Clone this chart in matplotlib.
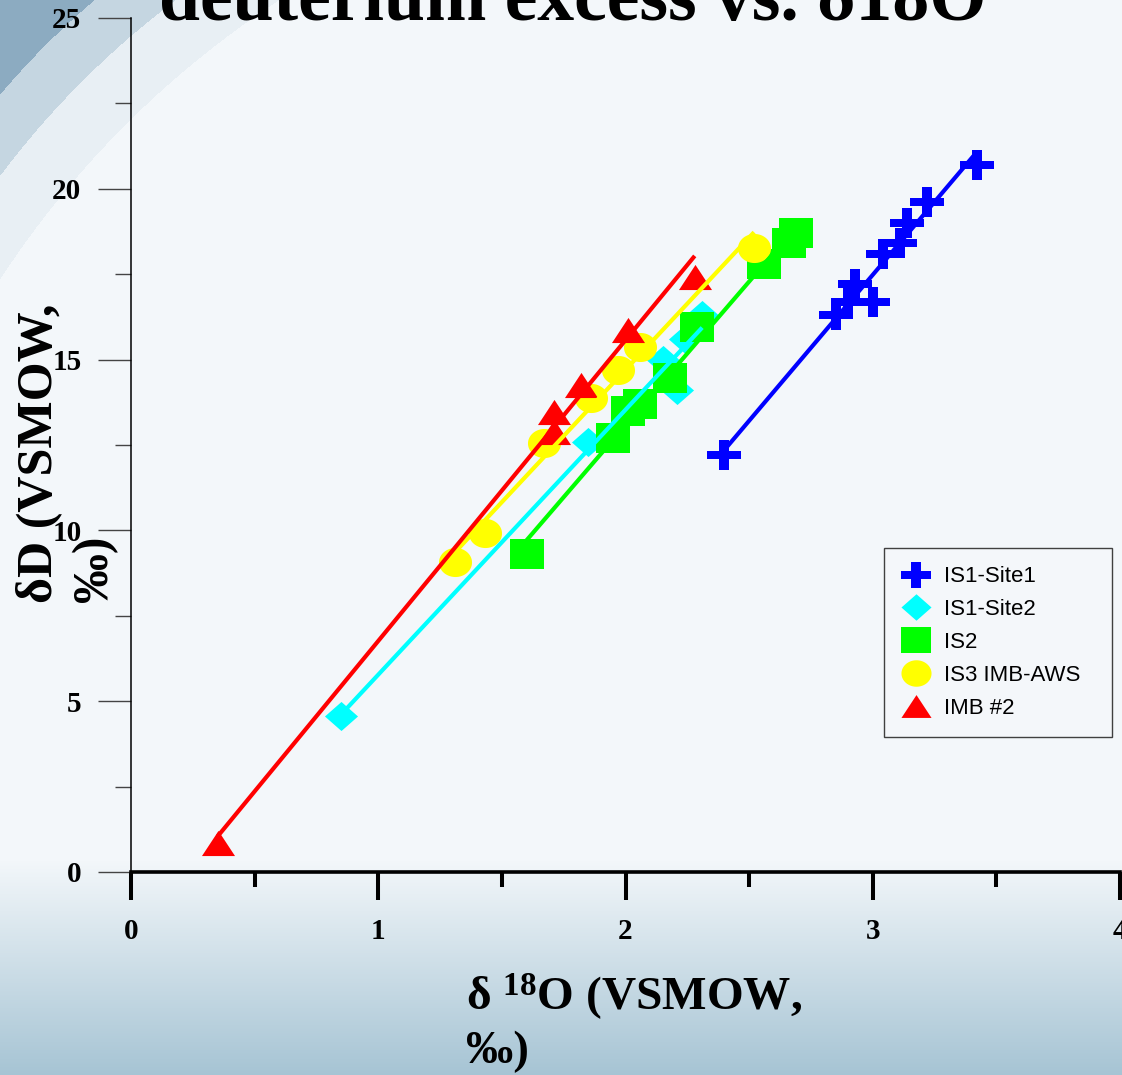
import matplotlib
matplotlib.use('Agg')
import matplotlib.pyplot as plt
import numpy as np

# delta 18O / delta D values
site1_x = [2.40, 2.85, 2.90, 2.93, 3.00, 3.04, 3.11, 3.14, 3.22, 3.42]
site1_y = [12.2, 16.3, 16.7, 17.2, 16.7, 18.1, 18.4, 19.0, 19.6, 20.7]
site2_x = [0.85, 1.85, 2.15, 2.21, 2.24, 2.31]
site2_y = [4.57, 12.6, 15.0, 14.1, 15.6, 16.3]
is2_x = [1.60, 1.95, 2.01, 2.06, 2.18, 2.29, 2.56, 2.66, 2.69]
is2_y = [9.31, 12.7, 13.5, 13.7, 14.46, 15.95, 17.8, 18.4, 18.7]
is3_x = [1.31, 1.43, 1.67, 1.86, 1.97, 2.06, 2.52]
is3_y = [9.07, 9.92, 12.56, 13.88, 14.7, 15.37, 18.27]
imb_x = [0.35, 1.71, 1.71, 1.82, 2.01, 2.28]
imb_y = [0.85, 13.47, 12.88, 14.26, 15.87, 17.42]

labels = ['IS1-Site1', 'IS1-Site2', 'IS2', 'IS3 IMB-AWS', 'IMB #2']
colors = ['#0000ff', '#00ffff', '#00ff00', '#ffff00', '#ff0000']
xs = [site1_x, site2_x, is2_x, is3_x, imb_x]
ys = [site1_y, site2_y, is2_y, is3_y, imb_y]

# marker shapes (slightly wider than tall, like the slide)
h = 0.88
plus = [(-0.33, h), (0.33, h), (0.33, 0.27), (1, 0.27), (1, -0.27), (0.33, -0.27),
        (0.33, -h), (-0.33, -h), (-0.33, -0.27), (-1, -0.27), (-1, 0.27), (-0.33, 0.27)]
diamond = [(0, h), (1, 0), (0, -h), (-1, 0)]
square = [(-1, -h), (1, -h), (1, h), (-1, h)]
t = np.linspace(0, 2 * np.pi, 60)
ellipse = list(zip(np.cos(t), h * np.sin(t)))
triangle = [(-1, -0.76), (1, -0.76), (0, 0.76)]
markers = [plus, diamond, square, ellipse, triangle]

plt.rcParams['font.family'] = ['Liberation Serif', 'DejaVu Serif']
plt.rcParams['mathtext.fontset'] = 'custom'
plt.rcParams['mathtext.rm'] = 'Liberation Serif:bold'
plt.rcParams['mathtext.default'] = 'rm'

W, H = 1122, 1075
fig = plt.figure(figsize=(W / 100, H / 100), dpi=100)

# slide background: swoosh at top-left, blue fade at the bottom
yy, xx = np.mgrid[0:H, 0:W]
img = np.ones((H, W, 3)) * np.array([243, 247, 250])
left = xx < 450
for (cx, cy, r, col) in [(800, 800, 955, (232, 239, 244)),
                         (700, 700, 875, (197, 214, 225)),
                         (600, 600, 785, (140, 171, 193))]:
    outside = (np.hypot(xx - cx, yy - cy) > r) & left
    img[outside] = col
fade = np.clip((yy - 860) / (H - 860), 0, 1)[..., None]
img = img * (1 - fade) + np.array([166, 196, 212]) * fade
bg = fig.add_axes([0, 0, 1, 1], zorder=-10)
bg.imshow(img.astype(np.uint8), aspect='auto', interpolation='bilinear')
bg.axis('off')

ax = fig.add_axes([131 / W, 1 - 872 / H, (1120 - 131) / W, (872 - 18) / H])
ax.set_facecolor('none')

handles = []
for x, y, m, c, lab in zip(xs, ys, markers, colors, labels):
    hd, = ax.plot(x, y, ls='none', marker=m, markersize=23.8, color=c,
                  markeredgewidth=0, label=lab, zorder=3, clip_on=False)
    handles.append(hd)

# regression lines over the data range
for x, y, c in zip(xs, ys, colors):
    k, b = np.polyfit(x, y, 1)
    xl = np.array([min(x), max(x)])
    ax.plot(xl, k * xl + b, color=c, lw=3, zorder=4, solid_capstyle='butt')

ax.set_xlim(0, 4)
ax.set_ylim(0, 25)
ax.set_xticks([0, 1, 2, 3, 4])
ax.set_xticks([0.5, 1.5, 2.5, 3.5], minor=True)
ax.set_yticks([0, 5, 10, 15, 20, 25])
ax.set_yticks(np.arange(2.5, 25, 5), minor=True)
ax.spines['top'].set_visible(False)
ax.spines['right'].set_visible(False)
ax.spines['bottom'].set_linewidth(2.6)
ax.spines['left'].set_linewidth(1.1)
ax.tick_params(axis='x', which='major', length=20, width=2.9, pad=13, labelsize=21)
ax.tick_params(axis='x', which='minor', length=11, width=2.9)
ax.tick_params(axis='y', which='major', length=23.7, width=1.0, color='#444444',
               pad=12, labelsize=21)
ax.tick_params(axis='y', which='minor', length=11.5, width=1.0, color='#444444')
for lbl in ax.get_xticklabels() + ax.get_yticklabels():
    lbl.set_fontweight('bold')

leg = ax.legend(handles=handles, loc='upper left', mode='expand',
                bbox_to_anchor=(884 / W, 1 - 731 / H, 228 / W, 183 / H),
                bbox_transform=fig.transFigure,
                borderaxespad=0, prop={'family': 'Liberation Sans', 'size': 16},
                markerscale=0.91, handlelength=1.25, handletextpad=0.6,
                borderpad=0.83, labelspacing=0.53, fancybox=False,
                edgecolor='#404040', facecolor='#f4f7fa', framealpha=1)
leg.get_frame().set_linewidth(1.0)

# title (cut by the slide edge) and axis titles
fig.text(159 / W, 1 - 20 / H, 'deuterium excess vs. δ18O', ha='left', va='baseline',
         fontsize=53, fontweight='bold')
fig.text(51 / W, 1 - 603 / H, 'δD (VSMOW,', rotation=90, rotation_mode='anchor',
         ha='left', va='baseline', fontsize=36, fontweight='bold')
fig.text(107 / W, 1 - 602 / H, '‰)', rotation=90, rotation_mode='anchor',
         ha='left', va='baseline', fontsize=36, fontweight='bold')
fig.text(466 / W, 1 - 1010 / H, 'δ $^{18}$O (VSMOW,', ha='left', va='baseline',
         fontsize=34, fontweight='bold')
fig.text(466 / W, 1 - 1063 / H, '‰)', ha='left', va='baseline',
         fontsize=34, fontweight='bold')

fig.savefig('out.png', dpi=100)
